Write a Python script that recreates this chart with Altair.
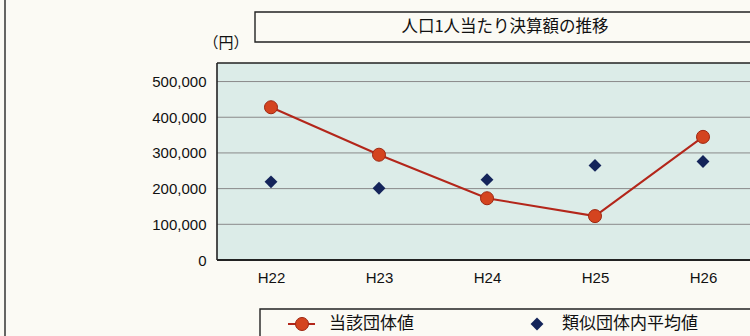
import altair as alt
import pandas as pd

# 人口1人当たり決算額（円）
years = ["H22", "H23", "H24", "H25", "H26"]
own_values = [428000, 295000, 173000, 123000, 345000]       # 当該団体値
peer_averages = [219000, 201000, 225000, 265000, 276000]    # 類似団体内平均値
y_ticks = [0, 100000, 200000, 300000, 400000, 500000]

title_text = "人口1人当たり決算額の推移"
unit_text = "（円）"
own_label = "当該団体値"
peer_label = "類似団体内平均値"

RED_LINE = "#b3261a"
RED_FILL = "#d4441f"
RED_EDGE = "#9e2813"
NAVY = "#14245a"
FRAME = "#222222"
JP_FONT = "Noto Sans CJK JP"
NUM_FONT = "Liberation Sans"

df = pd.DataFrame({"年度": years, "当該団体値": own_values, "類似団体内平均値": peer_averages})
grid_df = pd.DataFrame({"v": y_ticks})
one = pd.DataFrame({"k": [0]})

W, H = 533, 197

x_enc = alt.X(
    "年度:O",
    sort=years,
    scale=alt.Scale(type="point", range=[54, 486], padding=0),
    axis=alt.Axis(title=None, labelAngle=0, ticks=False, labelPadding=10,
                  labelFontSize=15, labelFont=NUM_FONT, labelColor="#111",
                  domain=False, grid=False),
)
y_scale = alt.Scale(domain=[0, 552000], nice=False)
y_axis = alt.Axis(title=None, values=y_ticks, format=",d", ticks=False, labelPadding=11,
                  labelFontSize=15, labelFont=NUM_FONT, labelColor="#111",
                  labelOverlap=False, domain=False, grid=False)

# horizontal gridlines across the full plot width
grid = alt.Chart(grid_df).mark_rule(color="#8a8a8a", strokeWidth=1).encode(
    y=alt.Y("v:Q", scale=y_scale, axis=y_axis), x=alt.value(0), x2=alt.value(W)
)

base = alt.Chart(df)
line = base.mark_line(color=RED_LINE, strokeWidth=2).encode(
    x=x_enc, y=alt.Y("当該団体値:Q", scale=y_scale, axis=y_axis)
)
circles = base.mark_point(shape="circle", filled=True, size=170, color=RED_FILL,
                          stroke=RED_EDGE, strokeWidth=1, opacity=1).encode(
    x=x_enc, y=alt.Y("当該団体値:Q", scale=y_scale, axis=y_axis)
)
diamonds = base.mark_point(shape="diamond", filled=True, size=165, color=NAVY, opacity=1).encode(
    x=x_enc, y=alt.Y("類似団体内平均値:Q", scale=y_scale, axis=y_axis)
)

# plot frame: left, top and bottom edges
frame_left = alt.Chart(one).mark_rule(color=FRAME, strokeWidth=1.6).encode(
    x=alt.value(0), y=alt.value(0), y2=alt.value(H)
)
frame_top = alt.Chart(one).mark_rule(color=FRAME, strokeWidth=1.6).encode(
    x=alt.value(0), x2=alt.value(W), y=alt.value(0)
)
frame_bottom = alt.Chart(one).mark_rule(color=FRAME, strokeWidth=1.8).encode(
    x=alt.value(0), x2=alt.value(W), y=alt.value(H)
)
# page margin line on the far left
page_line = alt.Chart(one).mark_rule(color="#333", strokeWidth=1.5).encode(
    x=alt.value(-212), y=alt.value(-70), y2=alt.value(H + 90)
)

# boxed heading
title_box = alt.Chart(one).mark_rect(fill="#fbfaf4", stroke=FRAME, strokeWidth=1.4).encode(
    x=alt.value(38), x2=alt.value(W + 10), y=alt.value(-51), y2=alt.value(-21)
)
title = alt.Chart(one).mark_text(text=title_text, font=JP_FONT, fontSize=16.5,
                                 color="#111", align="center", baseline="middle").encode(
    x=alt.value(288), y=alt.value(-36)
)
unit = alt.Chart(one).mark_text(text=unit_text, font=JP_FONT, fontSize=15,
                                color="#111", align="center", baseline="middle").encode(
    x=alt.value(9), y=alt.value(-20)
)

# boxed legend under the plot
legend_box = alt.Chart(one).mark_rect(fill="#fbfaf4", stroke=FRAME, strokeWidth=1.4).encode(
    x=alt.value(43), x2=alt.value(W + 10), y=alt.value(H + 49), y2=alt.value(H + 90)
)
legend_line = alt.Chart(one).mark_rule(color=RED_LINE, strokeWidth=2).encode(
    x=alt.value(71), x2=alt.value(98), y=alt.value(H + 64)
)
legend_circle = alt.Chart(one).mark_point(shape="circle", filled=True, size=170, color=RED_FILL,
                                          stroke=RED_EDGE, strokeWidth=1, opacity=1).encode(
    x=alt.value(85), y=alt.value(H + 64)
)
legend_own = alt.Chart(one).mark_text(text=own_label, font=JP_FONT, fontSize=17,
                                      color="#111", align="left", baseline="middle").encode(
    x=alt.value(112), y=alt.value(H + 64)
)
legend_diamond = alt.Chart(one).mark_point(shape="diamond", filled=True, size=165,
                                           color=NAVY, opacity=1).encode(
    x=alt.value(320), y=alt.value(H + 64)
)
legend_peer = alt.Chart(one).mark_text(text=peer_label, font=JP_FONT, fontSize=17,
                                       color="#111", align="left", baseline="middle").encode(
    x=alt.value(345), y=alt.value(H + 64)
)

chart = alt.layer(
    grid, line, circles, diamonds, frame_left, frame_top, frame_bottom, page_line,
    title_box, title, unit,
    legend_box, legend_line, legend_circle, legend_own, legend_diamond, legend_peer,
).properties(
    width=W, height=H,
    padding={"left": 217, "top": 63, "right": 0, "bottom": 76},
    autosize=alt.AutoSizeParams(type="none"),
    background="#fbfaf4",
).configure_view(
    fill="#dcece8", strokeWidth=0
)

chart.save("out.html", embed_options={"renderer": "svg", "actions": False})
